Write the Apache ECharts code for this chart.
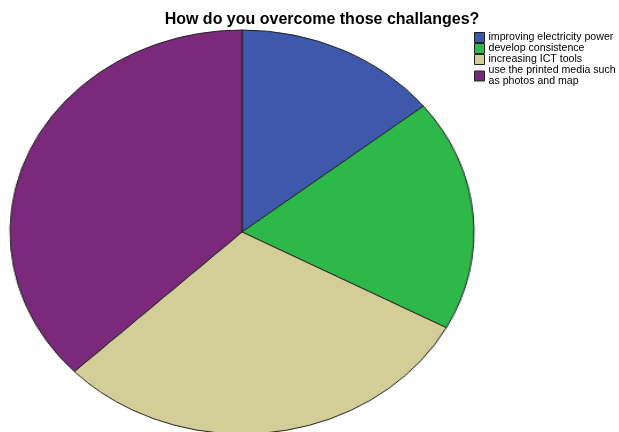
<!DOCTYPE html>
<html>
<head>
<meta charset="utf-8">
<script src="https://cdn.jsdelivr.net/npm/echarts@6/dist/echarts.min.js"></script>
<style>
  html, body { margin: 0; padding: 0; background: #fff; }
  #wrap { position: relative; width: 619px; height: 432px; overflow: hidden; }
  #main { position: absolute; left: 0; top: 0; width: 619px; height: 432px; }
  #pie { position: absolute; left: 37px; top: 27px; width: 410px; height: 410px;
         transform: scaleX(1.1485); transform-origin: 205px 205px; }
</style>
</head>
<body>
<div id="wrap">
  <div id="main"></div>
  <div id="pie"></div>
</div>
<script>
const categories = ['improving electricity power', 'develop consistence', 'increasing ICT tools', 'use the printed media such\nas photos and map'];
const counts = [10, 13, 21, 26];
const colors = ['#3e58ac', '#2fb84a', '#d3ce97', '#7b2a7b'];

const pieData = categories.map(function (name, i) {
    return { name: name, value: counts[i], itemStyle: { color: colors[i] } };
});

// title + legend (pie drawn separately so it can be stretched into an ellipse)
const mainChart = echarts.init(document.getElementById('main'));
mainChart.setOption({
    animation: false,
    title: {
        text: 'How do you overcome those challanges?',
        left: 317,
        textAlign: 'center',
        top: 7,
        textStyle: { fontFamily: 'Liberation Sans', fontSize: 16, fontWeight: 'bold', color: '#000' }
    },
    legend: {
        orient: 'vertical',
        left: 474,
        top: 32,
        icon: 'rect',
        itemWidth: 10,
        itemHeight: 10,
        itemGap: 0,
        padding: 0,
        itemStyle: { borderColor: '#222', borderWidth: 1 },
        textStyle: { fontFamily: 'Liberation Sans', fontSize: 10.6, color: '#000', padding: [0, 0, 0, -1], lineHeight: 11 },
        data: categories
    },
    series: [{
        type: 'pie',
        radius: 0,
        center: [-100, -100],
        label: { show: false },
        data: pieData
    }]
});

const pieChart = echarts.init(document.getElementById('pie'));
pieChart.setOption({
    animation: false,
    series: [{
        type: 'pie',
        radius: 202,
        center: [205, 205],
        startAngle: 90,
        clockwise: true,
        label: { show: false },
        labelLine: { show: false },
        itemStyle: { borderColor: '#222', borderWidth: 1 },
        emphasis: { disabled: true },
        data: pieData
    }]
});
</script>
</body>
</html>
